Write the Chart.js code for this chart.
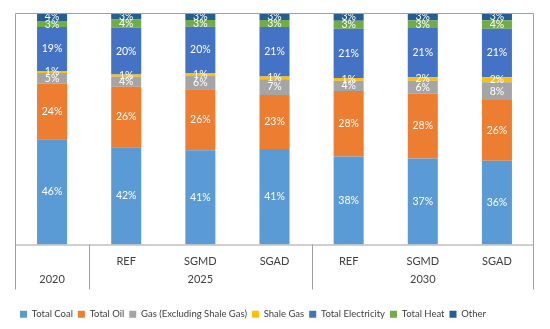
<!DOCTYPE html>
<html>
<head>
<meta charset="utf-8">
<script src="https://cdn.jsdelivr.net/npm/chart.js@4"></script>
<style>
  html, body { margin: 0; padding: 0; background: #ffffff; }
  #wrap { width: 550px; height: 329px; position: relative; }
</style>
</head>
<body>
<div id="wrap"><canvas id="c" width="550" height="329"></canvas></div>
<script>
// Categories (scenario per column) and groups (years)
const scenarios = ['', 'REF', 'SGMD', 'SGAD', 'REF', 'SGMD', 'SGAD'];
const groupLabels = ['2020', '2025', '2030'];
const groupSpans = [1, 3, 3];

// Series values (% share)
const totalCoal        = [45.5, 42.0, 40.7, 41.2, 38.0, 37.2, 36.2];
const totalOil         = [24.0, 26.1, 26.4, 23.4, 28.3, 27.9, 26.2];
const gasExclShale     = [ 4.6,  4.4,  5.8,  6.8,  4.4,  5.6,  7.7];
const shaleGas         = [ 0.9,  0.9,  1.2,  1.2,  1.2,  1.6,  2.1];
const totalElectricity = [18.9, 20.2, 20.0, 21.4, 21.3, 21.2, 21.0];
const totalHeat        = [ 2.6,  3.6,  2.9,  3.0,  3.4,  3.3,  3.7];
const other            = [ 3.5,  2.8,  3.0,  3.0,  3.4,  3.2,  3.1];

const seriesNames = ['Total Coal', 'Total Oil', 'Gas (Excluding Shale Gas)', 'Shale Gas', 'Total Electricity', 'Total Heat', 'Other'];
const seriesData = [totalCoal, totalOil, gasExclShale, shaleGas, totalElectricity, totalHeat, other];
const seriesColors = ['#5B9BD5', '#ED7D31', '#A5A5A5', '#FFC000', '#4472C4', '#70AD47', '#255E91'];

const FONT = 'Lato, "Liberation Sans", sans-serif';
const LINE = '#a0a0a0';
const AXIS_ROWS = 45;

const dataLabels = {
  id: 'dataLabels',
  afterDatasetsDraw(chart) {
    const ctx = chart.ctx;
    ctx.save();
    ctx.font = '10.5px ' + FONT;
    ctx.fillStyle = '#ffffff';
    ctx.textAlign = 'center';
    ctx.textBaseline = 'middle';
    chart.data.datasets.forEach((ds, di) => {
      const meta = chart.getDatasetMeta(di);
      meta.data.forEach((el, i) => {
        const v = ds.data[i];
        const cy = (el.y + el.base) / 2;
        ctx.fillText(Math.round(v) + '%', el.x, cy);
      });
    });
    ctx.restore();
  }
};

const frameAndGroups = {
  id: 'frameAndGroups',
  afterDraw(chart) {
    const ctx = chart.ctx;
    const x = chart.scales.x;
    const a = chart.chartArea;
    const bottom = x.top + AXIS_ROWS;
    ctx.save();
    ctx.strokeStyle = LINE;
    ctx.lineWidth = 1;
    ctx.beginPath();
    // frame
    ctx.moveTo(a.left + 0.5, bottom);
    ctx.lineTo(a.left + 0.5, a.top + 0.5);
    ctx.lineTo(a.right - 0.5, a.top + 0.5);
    ctx.lineTo(a.right - 0.5, bottom);
    ctx.moveTo(a.left, a.bottom + 0.5);
    ctx.lineTo(a.right, a.bottom + 0.5);
    // group separators
    let idx = 0;
    for (let g = 0; g < groupSpans.length - 1; g++) {
      idx += groupSpans[g];
      const sx = Math.round((x.getPixelForValue(idx - 1) + x.getPixelForValue(idx)) / 2) + 0.5;
      ctx.moveTo(sx, a.bottom);
      ctx.lineTo(sx, bottom);
    }
    ctx.stroke();
    // group labels
    ctx.font = '11px ' + FONT;
    ctx.fillStyle = '#404040';
    ctx.textAlign = 'center';
    ctx.textBaseline = 'middle';
    let start = 0;
    groupLabels.forEach((lab, g) => {
      const end = start + groupSpans[g] - 1;
      const cx = (x.getPixelForValue(start) + x.getPixelForValue(end)) / 2;
      ctx.fillText(lab, cx, x.top + 35);
      start = end + 1;
    });
    ctx.restore();
  }
};

new Chart(document.getElementById('c'), {
  type: 'bar',
  data: {
    labels: scenarios,
    datasets: seriesNames.map((n, i) => ({
      label: n,
      data: seriesData[i],
      backgroundColor: seriesColors[i],
      borderWidth: 0,
      categoryPercentage: 1.0,
      barPercentage: 0.405
    }))
  },
  options: {
    responsive: false,
    animation: false,
    layout: { padding: { left: 15, right: 16, top: 13, bottom: 0 } },
    scales: {
      x: {
        stacked: true,
        grid: { display: false, drawTicks: false },
        border: { display: false },
        ticks: { color: '#404040', font: { family: FONT, size: 11 }, padding: 10, maxRotation: 0, autoSkip: false },
        afterFit(s) { s.height = 60; }
      },
      y: {
        stacked: true,
        display: false,
        min: 0,
        max: 100
      }
    },
    plugins: {
      legend: {
        position: 'bottom',
        align: 'start',
        labels: {
          boxWidth: 7, boxHeight: 7, padding: 5,
          color: '#404040',
          font: { family: FONT, size: 9.5 }
        }
      },
      tooltip: { enabled: false }
    }
  },
  plugins: [dataLabels, frameAndGroups]
});
</script>
</body>
</html>
